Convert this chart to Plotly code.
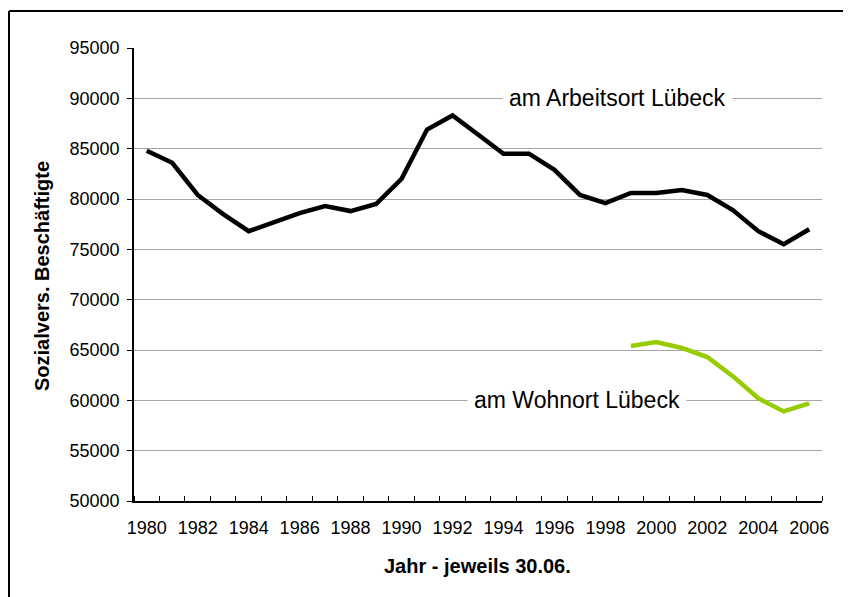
import plotly.graph_objects as go

years = list(range(1980, 2007))
arbeitsort = [84800, 83600, 80400, 78500, 76800, 77700, 78600, 79300, 78800, 79500,
              82000, 86900, 88300, 86400, 84500, 84500, 82900, 80400, 79600, 80600,
              80600, 80900, 80400, 78900, 76800, 75500, 77000]
wohn_years = list(range(1999, 2007))
wohnort = [65400, 65800, 65200, 64300, 62400, 60200, 58900, 59700]

x_tick_vals = list(range(1980, 2007, 2))
x_tick_text = [str(v) for v in x_tick_vals]
y_tick_vals = list(range(50000, 95001, 5000))
y_tick_text = [str(v) for v in y_tick_vals]

label_arbeit = "am Arbeitsort Lübeck"
label_wohn = "am Wohnort Lübeck"
x_title = "Jahr - jeweils 30.06."
y_title = "Sozialvers. Beschäftigte"

FONT = "Liberation Sans, Arial, sans-serif"

fig = go.Figure()
fig.add_trace(go.Scatter(x=years, y=arbeitsort, mode="lines",
                         line=dict(color="#000000", width=4.5), showlegend=False))
fig.add_trace(go.Scatter(x=wohn_years, y=wohnort, mode="lines",
                         line=dict(color="#99CC00", width=4.5), showlegend=False))

# page has an 8px body margin; figure coords = page coords - 8
OFF = 8
W, H = 843, 589
L, R, T, B = 126, 29, 40, 96
PW, PH = W - L - R, H - T - B


def px(xp):
    return (xp - OFF - L) / PW


def py(yp):
    return (H - B - (yp - OFF)) / PH


fig.update_layout(
    width=W, height=H,
    margin=dict(l=L, r=R, t=T, b=B),
    paper_bgcolor="white", plot_bgcolor="white",
    font=dict(family=FONT, color="#000000", size=18),
    showlegend=False,
    xaxis=dict(
        range=[1979.5, 2006.5],
        tickmode="array", tickvals=x_tick_vals, ticktext=x_tick_text,
        ticks="", showgrid=False, zeroline=False,
        showline=True, linecolor="#000000", linewidth=1.5,
        tickfont=dict(size=18, family=FONT),
        ticklabelstandoff=10,
        minor=dict(tickmode="linear", tick0=1979.5, dtick=1, ticks="inside",
                   ticklen=5, tickcolor="#000000", tickwidth=1, showgrid=False),
    ),
    yaxis=dict(
        range=[50000, 95000],
        tickmode="array", tickvals=y_tick_vals, ticktext=y_tick_text,
        ticks="outside", ticklen=5, tickcolor="#000000", tickwidth=1,
        showgrid=True, gridcolor="#A6A6A6", gridwidth=1,
        zeroline=False, showline=True, linecolor="#000000", linewidth=1.5,
        tickfont=dict(size=18, family=FONT),
        ticklabelstandoff=4,
    ),
    annotations=[
        dict(x=1998.48, y=90000, xref="x", yref="y", text=label_arbeit, showarrow=False,
             font=dict(size=23, family=FONT, color="#000000"), bgcolor="white",
             borderpad=6, xanchor="center", yanchor="middle"),
        dict(x=1996.9, y=60000, xref="x", yref="y", text=label_wohn, showarrow=False,
             font=dict(size=23, family=FONT, color="#000000"), bgcolor="white",
             borderpad=6, xanchor="center", yanchor="middle"),
        dict(x=px(477), y=py(566), xref="paper", yref="paper",
             text="<b>" + x_title + "</b>", showarrow=False,
             font=dict(size=20, family=FONT, color="#000000"),
             xanchor="center", yanchor="middle"),
        dict(x=px(42), y=py(276), xref="paper", yref="paper",
             text="<b>" + y_title + "</b>", showarrow=False, textangle=-90,
             font=dict(size=20, family=FONT, color="#000000"),
             xanchor="center", yanchor="middle"),
    ],
    shapes=[
        dict(type="line", xref="paper", yref="paper",
             x0=px(9), x1=px(9), y0=py(11), y1=py(640),
             line=dict(color="#000000", width=2)),
        dict(type="line", xref="paper", yref="paper",
             x0=px(9), x1=px(900), y0=py(11), y1=py(11),
             line=dict(color="#000000", width=2)),
    ],
)

fig.write_html("out.html")
